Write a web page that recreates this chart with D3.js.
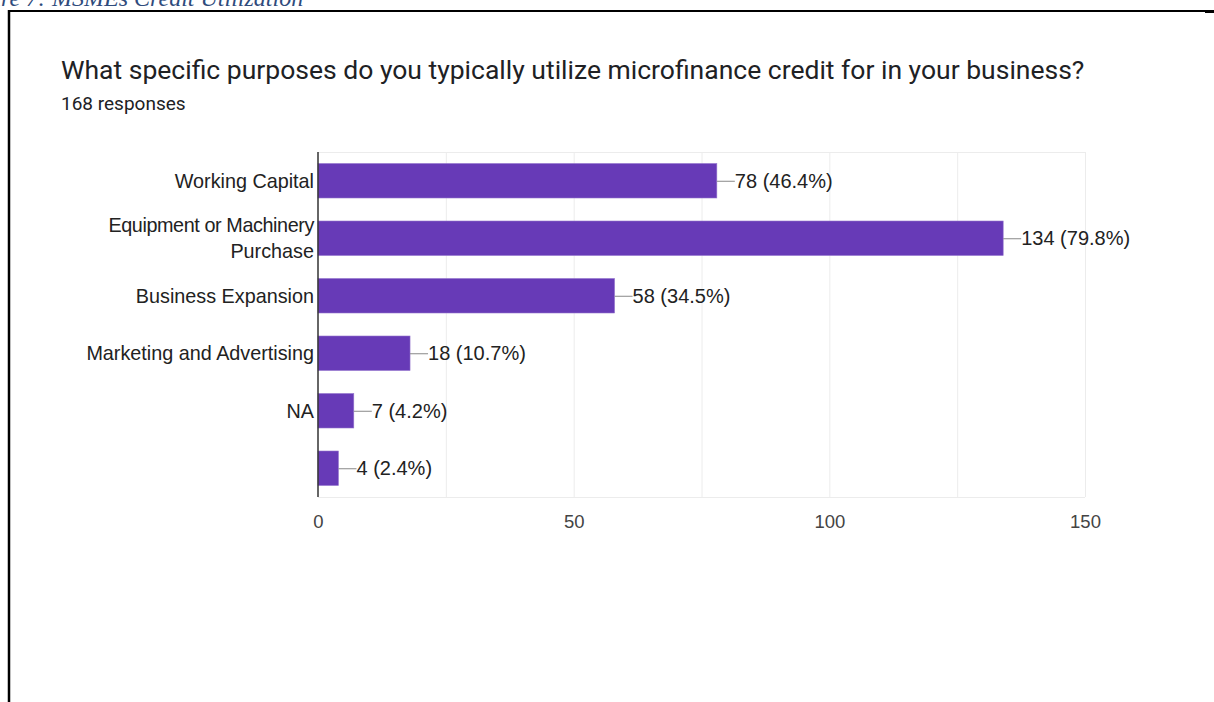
<!DOCTYPE html>
<html>
<head>
<meta charset="UTF-8">
<title>Credit utilization</title>
<style>
  body { margin: 0; background: #fff; }
  svg text { font-family: "Liberation Sans", Arial, sans-serif; }
</style>
<script src="https://d3js.org/d3.v7.min.js"></script>
</head>
<body>
<script>
// data
var categories = ["Working Capital", "Equipment or Machinery Purchase", "Business Expansion",
                  "Marketing and Advertising", "NA", ""];
var counts = [78, 134, 58, 18, 7, 4];
var percents = ["46.4%", "79.8%", "34.5%", "10.7%", "4.2%", "2.4%"];
var xTicks = [0, 50, 100, 150];
var gridTicks = [25, 50, 75, 100, 125, 150];

var W = 1214, H = 702;
var svg = d3.select("body").append("svg").attr("width", W).attr("height", H);

// caption cut off at the top of the page
var capFont = "24px";
var cap = svg.append("text")
  .attr("y", 6)
  .style("font-family", "'Liberation Serif', serif")
  .style("font-style", "italic")
  .style("font-size", capFont)
  .attr("fill", "#2f4b7c")
  .text("Figure 7: MSMEs Credit Utilization");
var tmp = svg.append("text").style("font-family", "'Liberation Serif', serif")
  .style("font-style", "italic").style("font-size", capFont).text("Figu");
cap.attr("x", -tmp.node().getComputedTextLength() + 1);
tmp.remove();

// frame
svg.append("line").attr("x1", 9).attr("x2", 9).attr("y1", 10).attr("y2", H)
  .attr("stroke", "#000").attr("stroke-width", 2.5);
svg.append("line").attr("x1", 8).attr("x2", W).attr("y1", 11).attr("y2", 11)
  .attr("stroke", "#000").attr("stroke-width", 2);
svg.append("line").attr("x1", 1205).attr("x2", W).attr("y1", 11.5).attr("y2", 11.5)
  .attr("stroke", "#000").attr("stroke-width", 3);

svg.append("text").attr("x", 61).attr("y", 79)
  .style("font-family", "Roboto, sans-serif")
  .style("font-size", "26.5px").attr("fill", "#202124")
  .text("What specific purposes do you typically utilize microfinance credit for in your business?");
svg.append("text").attr("x", 61).attr("y", 110)
  .style("font-family", "Roboto, sans-serif")
  .style("font-size", "19px").attr("fill", "#202124")
  .text("168 responses");

var plotL = 318, plotR = 1085, plotT = 152, plotB = 497;

var x = d3.scaleLinear().domain([0, 150]).range([plotL, plotR]);
var y = d3.scaleBand().domain(d3.range(categories.length)).range([plotT, plotB])
  .paddingInner(0.4).paddingOuter(0.2);

// grid
svg.append("g").selectAll("line").data(gridTicks).join("line")
  .attr("x1", d => x(d) + 0.5).attr("x2", d => x(d) + 0.5)
  .attr("y1", plotT).attr("y2", plotB)
  .attr("stroke", "#ececec").attr("stroke-width", 1);
svg.append("line").attr("x1", plotL).attr("x2", plotR).attr("y1", plotT + 0.5).attr("y2", plotT + 0.5)
  .attr("stroke", "#ececec");
svg.append("line").attr("x1", plotL).attr("x2", plotR).attr("y1", plotB + 0.5).attr("y2", plotB + 0.5)
  .attr("stroke", "#ececec");

// bars
svg.append("g").selectAll("rect").data(counts).join("rect")
  .attr("x", x(0)).attr("y", (d, i) => y(i))
  .attr("width", d => x(d) - x(0)).attr("height", y.bandwidth())
  .attr("fill", "#673ab7").attr("stroke", "#9575cd").attr("stroke-width", 0.6);

// leader lines + value labels
var lab = svg.append("g");
counts.forEach(function(d, i) {
  var cy = y(i) + y.bandwidth() / 2;
  lab.append("line").attr("x1", x(d)).attr("x2", x(d) + 18)
    .attr("y1", cy + 0.5).attr("y2", cy + 0.5).attr("stroke", "#888").attr("stroke-width", 1);
  lab.append("text").attr("x", x(d) + 18).attr("y", cy).attr("dy", "0.36em")
    .style("font-size", "20px").attr("fill", "#222")
    .text(d + " (" + percents[i] + ")");
});

// category labels
var cat = svg.append("g");
categories.forEach(function(c, i) {
  var cy = y(i) + y.bandwidth() / 2;
  var lines = c === "Equipment or Machinery Purchase" ? ["Equipment or Machinery", "Purchase"] : [c];
  lines.forEach(function(l, k) {
    cat.append("text").attr("x", plotL - 4)
      .attr("y", cy + (k - (lines.length - 1) / 2) * 26).attr("dy", "0.36em")
      .attr("text-anchor", "end").style("font-size", "19.8px").attr("fill", "#222")
      .style("letter-spacing", l === "Equipment or Machinery" ? "-0.4px" : null)
      .text(l);
  });
});

// axis line
svg.append("line").attr("x1", plotL).attr("x2", plotL).attr("y1", plotT).attr("y2", plotB)
  .attr("stroke", "#333").attr("stroke-width", 1.5);

// x axis tick labels
var xAxis = d3.axisBottom(x).tickValues(xTicks).tickSize(0).tickPadding(18);
var ax = svg.append("g").attr("transform", "translate(0," + plotB + ")").call(xAxis);
ax.select(".domain").remove();
ax.selectAll("text").style("font-size", "18.5px").attr("fill", "#444")
  .style("font-family", "'Liberation Sans', Arial, sans-serif");
</script>
</body>
</html>
